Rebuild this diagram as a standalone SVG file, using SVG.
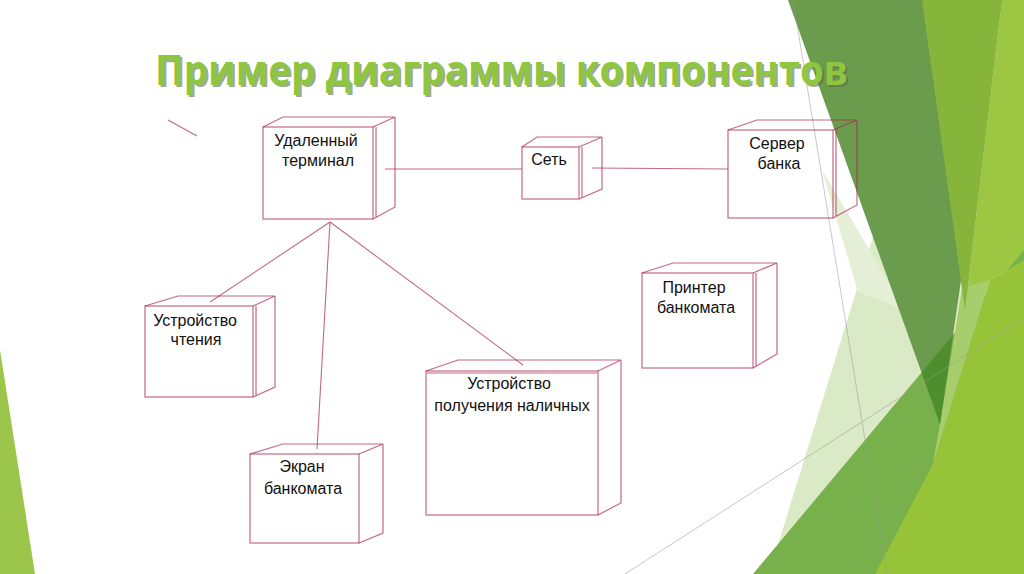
<svg xmlns="http://www.w3.org/2000/svg" width="1024" height="574" viewBox="0 0 1024 574">
<style>
.e{fill:none;stroke:#a82a50;stroke-opacity:0.7;stroke-width:1.2}
.c{fill:none;stroke:#a82a50;stroke-opacity:0.7;stroke-width:1.1}
.t{font-family:"Liberation Sans",Arial,sans-serif;font-size:16px;fill:#111;text-anchor:middle}
.g{fill:none;stroke:#9a9a9a;stroke-opacity:0.55;stroke-width:1}
</style>
<defs>
<clipPath id="cm"><polygon points="753,574 1024,250 1024,574"/></clipPath>
</defs>
<rect width="1024" height="574" fill="#ffffff"/>
<g id="decor">
<polygon points="0,350 35,574 0,574" fill="#9cc64b"/>
<polygon points="946,0 1024,0 1024,574 769,574" fill="#dae9c6"/>
<polygon points="822,170 905,310 858,292" fill="#e4efd6"/>
<polygon points="1002,0 1024,0 1024,260 990,280 965,310" fill="#9dc743"/>
<polygon points="753,574 1024,250 1024,574" fill="#78b04b"/>
<polygon points="990,280 1024,260 1024,574 875,574 933,464" fill="#96c337"/>
<polygon points="962,288 990,280 933,464 940,424" fill="#a8cd6c"/>
<polygon points="788,0 1002,0 940,424" fill="#6b9b4c"/>
<polygon points="788,0 1002,0 940,424" fill="#4e8e2c" clip-path="url(#cm)"/>
<polygon points="922,0 1002,0 965,310" fill="#87b53b"/>
<line class="g" x1="793" y1="0" x2="887" y2="574"/>
<line class="g" x1="625" y1="574" x2="1024" y2="318"/>
</g>
<g id="title">
<text x="157" y="87" font-family="'Open Sans','Liberation Sans',sans-serif" font-weight="700" font-size="41" fill="#5f6e50" fill-opacity="0.6" textLength="693" lengthAdjust="spacingAndGlyphs">Пример диаграммы компонентов</text>
<text x="155" y="85" font-family="'Open Sans','Liberation Sans',sans-serif" font-weight="700" font-size="41" fill="#8ec63f" textLength="693" lengthAdjust="spacingAndGlyphs">Пример диаграммы компонентов</text>
</g>
<g id="connectors">
<line class="c" x1="385" y1="169" x2="522" y2="169"/>
<line class="c" x1="592" y1="168" x2="728" y2="169"/>
<line class="c" x1="330" y1="222" x2="210" y2="302"/>
<line class="c" x1="330" y1="222" x2="317" y2="449"/>
<line class="c" x1="330" y1="222" x2="523" y2="365"/>
<line class="c" x1="168" y1="120" x2="197" y2="136"/>
</g>
<g id="node-terminal">
<rect class="e" x="263" y="127" width="110" height="92"/>
<path class="e" d="M263,127 L283,117 L395,117 L373,127 M395,117 L395,207 L373,219 M376,127 L376,218"/>
<text class="t" x="316" y="146">Удаленный</text>
<text class="t" x="318" y="166">терминал</text>
</g>
<g id="node-network">
<rect class="e" x="522" y="147" width="57" height="52"/>
<path class="e" d="M522,147 L537,137 L602,137 L579,147 M602,137 L602,189 L579,199 M582,147 L582,198"/>
<text class="t" x="549" y="165">Сеть</text>
</g>
<g id="node-server">
<rect class="e" x="728" y="130" width="105" height="88"/>
<path class="e" d="M728,130 L757,120 L857,120 L833,130 M857,120 L857,205 L833,218 M836,130 L836,217"/>
<text class="t" x="777" y="149">Сервер</text>
<text class="t" x="779" y="169">банка</text>
</g>
<g id="node-reader">
<rect class="e" x="145" y="306" width="108" height="91"/>
<path class="e" d="M145,306 L178,296 L275,296 L253,306 M275,296 L275,387 L253,397 M256,306 L256,396"/>
<text class="t" x="195" y="326">Устройство</text>
<text class="t" x="196" y="345">чтения</text>
</g>
<g id="node-screen">
<rect class="e" x="250" y="454" width="109" height="89"/>
<path class="e" d="M250,454 L283,444 L383,444 L359,454 M383,444 L383,533 L359,543"/>
<text class="t" x="302" y="472">Экран</text>
<text class="t" x="303" y="494">банкомата</text>
</g>
<g id="node-cash">
<rect class="e" x="426" y="371" width="172" height="144"/>
<path class="e" d="M426,371 L458,360 L621,360 L598,371 M621,360 L621,503 L598,515 M427,373 L597,373"/>
<text class="t" x="509" y="389">Устройство</text>
<text class="t" x="512" y="411">получения наличных</text>
</g>
<g id="node-printer">
<rect class="e" x="642" y="273" width="111" height="95"/>
<path class="e" d="M642,273 L673,263 L777,263 L753,273 M777,263 L777,354 L753,368 M756,273 L756,367"/>
<text class="t" x="694" y="293">Принтер</text>
<text class="t" x="696" y="313">банкомата</text>
</g>
</svg>
